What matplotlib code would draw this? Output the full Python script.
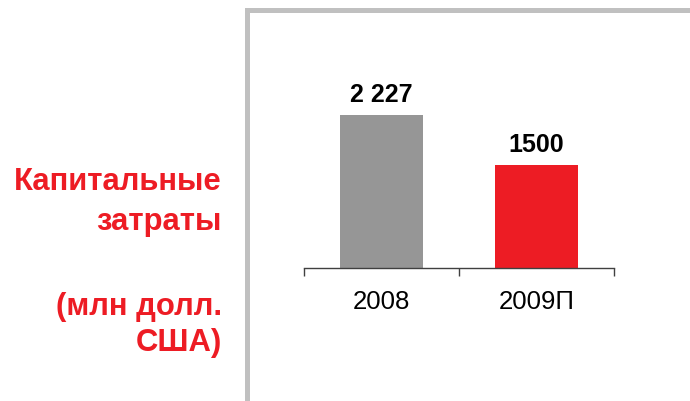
import matplotlib.pyplot as plt
from matplotlib.patches import Rectangle

categories = ['2008', '2009П']
values = [2227, 1500]
value_labels = ['2 227', '1500']
bar_colors = ['#969696', '#ED1C24']
side_lines = ['Капитальные', 'затраты', '', '(млн долл.', 'США)']

plt.rcParams['font.family'] = ['Liberation Sans', 'DejaVu Sans']

W, H = 690, 402
fig = plt.figure(figsize=(W / 100, H / 100), dpi=100)
fig.patch.set_facecolor('white')

# grey frame (top and left edge of the panel)
frame_col = '#c0c0c0'
fig.add_artist(Rectangle((245 / W, 0), 5 / W, (H - 9) / H, transform=fig.transFigure,
                         color=frame_col, lw=0))
fig.add_artist(Rectangle((245 / W, (H - 14) / H), (W - 245) / W, 5 / H, transform=fig.transFigure,
                         color=frame_col, lw=0))

# axes: x from 304 to 614 px, axis line at y=269 px
ax = fig.add_axes([304 / W, (H - 269) / H, 310 / W, (269 - 10) / H])
ax.set_facecolor('none')
x = range(len(categories))
ax.bar(x, values, width=0.535, color=bar_colors)
ax.set_xlim(-0.5, len(categories) - 0.5)
ax.set_ylim(0, 3770)

for s in ['top', 'left', 'right']:
    ax.spines[s].set_visible(False)
ax.spines['bottom'].set_color('#404040')
ax.spines['bottom'].set_linewidth(1.0)
ax.set_yticks([])
ax.set_xticks([-0.5, 0.5, 1.5])
ax.set_xticklabels([])
ax.tick_params(axis='x', which='major', length=6, width=1.0, color='#404040', direction='out')
ax.set_xticks(list(x), minor=True)
ax.set_xticklabels(categories, minor=True, fontsize=18.5)
ax.tick_params(axis='x', which='minor', length=0, pad=15)

for i, v in enumerate(values):
    ax.annotate(value_labels[i], (i, v), xytext=(0, 10), textcoords='offset points',
                ha='center', va='baseline', fontsize=18, fontweight='bold', color='black')

# side caption
line_y = [182, 222, 262, 307, 343]
for txt, yy in zip(side_lines, line_y):
    if txt:
        fig.text(222 / W, (H - yy) / H, txt, ha='right', va='center', fontsize=22.3,
                 fontweight='bold', color='#ED1C24')

fig.savefig('out.png', dpi=100)
